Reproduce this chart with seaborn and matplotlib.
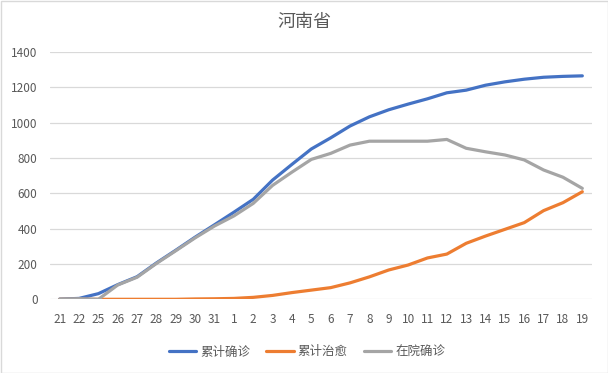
import matplotlib
matplotlib.use("Agg")
import matplotlib.pyplot as plt
import seaborn as sns
import pandas as pd
from matplotlib.patches import Rectangle

days = ["21", "22", "25", "26", "27", "28", "29", "30", "31",
        "1", "2", "3", "4", "5", "6", "7", "8", "9", "10",
        "11", "12", "13", "14", "15", "16", "17", "18", "19"]
confirmed = [1, 5, 32, 83, 128, 206, 278, 352, 422, 493, 566, 675, 764, 851,
             914, 981, 1033, 1073, 1105, 1135, 1169, 1184, 1212, 1231, 1246, 1257, 1262, 1265]
cured = [0, 0, 0, 0, 0, 0, 0, 2, 3, 5, 11, 22, 38, 52, 66, 93, 127, 166, 194,
         234, 256, 317, 358, 396, 434, 502, 547, 609]
in_hospital = [1, 3, 0, 81, 125, 203, 275, 348, 415, 472, 543, 645, 720, 792,
               826, 873, 895, 895, 895, 895, 905, 855, 835, 817, 789, 732, 691, 628]

names = ["累计确诊", "累计治愈", "在院确诊"]
colors = ["#4472C4", "#ED7D31", "#A5A5A5"]

rows = []
for name, vals in zip(names, [confirmed, cured, in_hospital]):
    for i, v in enumerate(vals):
        rows.append({"pos": i, "value": v, "series": name})
df = pd.DataFrame(rows)

sns.set_style("white")
plt.rcParams["font.family"] = ["Noto Sans CJK SC", "DejaVu Sans"]

fig = plt.figure(figsize=(6.08, 3.73), dpi=100)
ax = fig.add_axes([50 / 608, (373 - 299.3) / 373, 542 / 608, 247.3 / 373])

sns.lineplot(data=df, x="pos", y="value", hue="series", hue_order=names,
             palette=colors, linewidth=2.3, ax=ax, legend=True)

ax.set_xlim(-0.5, len(days) - 0.5)
ax.set_ylim(0, 1400)
ax.set_yticks(range(0, 1401, 200))
ax.set_xticks(range(len(days)))
ax.set_xticklabels(days)
ax.grid(axis="y", color="#D9D9D9", linewidth=0.9)
ax.grid(axis="x", visible=False)
for s in ax.spines.values():
    s.set_visible(False)
ax.tick_params(axis="both", length=0, labelsize=8.5, colors="#595959", pad=10)
ax.tick_params(axis="y", pad=9)
ax.set_xlabel("")
ax.set_ylabel("")

handles, labels = ax.get_legend_handles_labels()
ax.legend_.remove()
fig.legend(handles, labels, loc="center", bbox_to_anchor=(0.505, 1 - 352 / 373),
           ncol=3, frameon=False, fontsize=9, handlelength=2.2,
           handletextpad=0.3, columnspacing=1.3, labelcolor="#595959")

fig.text(0.5, 1 - 22 / 373, "河南省", ha="center", va="center",
         fontsize=13, color="#595959")

fig.patches.append(Rectangle((0.5 / 608, 0.5 / 373), 1 - 1 / 608, 1 - 1 / 373,
                             transform=fig.transFigure, fill=False,
                             edgecolor="#D9D9D9", linewidth=1))

fig.savefig("out.png", dpi=100)
